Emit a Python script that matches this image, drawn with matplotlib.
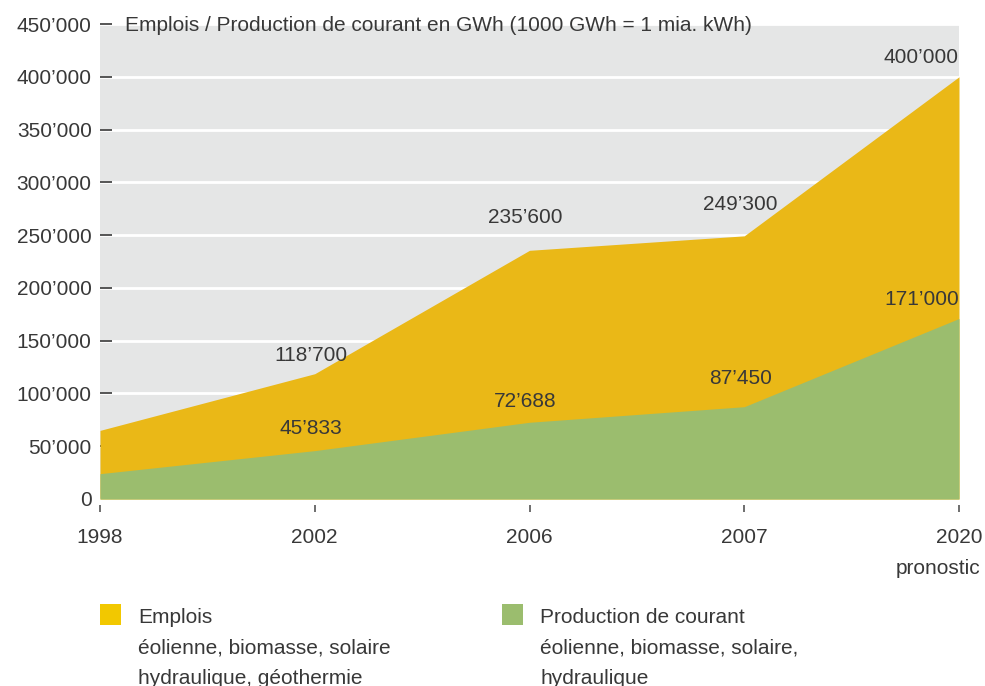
import matplotlib.pyplot as plt
from matplotlib.patches import Rectangle

plt.rcParams['font.family'] = ['Liberation Sans', 'DejaVu Sans']
TXT = '#383838'
FS = 15

# data
years = ['1998', '2002', '2006', '2007', '2020']
emplois = [65000, 118700, 235600, 249300, 400000]
production = [24000, 45833, 72688, 87450, 171000]
emplois_labels = [None, "118’700", "235’600", "249’300", "400’000"]
production_labels = [None, "45’833", "72’688", "87’450", "171’000"]
yticks = [0, 50000, 100000, 150000, 200000, 250000, 300000, 350000, 400000, 450000]

# label offsets above the points (pixels)
emplois_dy = [0, 18, 33, 31, 19]
production_dy = [0, 22, 21, 28, 19]

YELLOW = '#eab817'
GREEN = '#9bbd6e'

fig = plt.figure(figsize=(9.85, 6.86), dpi=100)
ax = fig.add_axes([100 / 985, 1 - 499 / 686, 859 / 985, 475 / 686])
ax.set_facecolor('#e5e6e6')

x = list(range(len(years)))
ax.fill_between(x, 0, emplois, color=YELLOW, lw=0, zorder=2)
ax.fill_between(x, 0, production, color=GREEN, lw=0, zorder=3)

ax.set_xlim(0, len(years) - 1)
ax.set_ylim(0, 450000)

ax.set_yticks(yticks)
ax.set_yticklabels(['0'] + [f"{v // 1000}’000" for v in yticks[1:]])
ax.grid(axis='y', color='white', lw=2)
ax.grid(axis='x', visible=False)
ax.set_axisbelow(True)

for s in ax.spines.values():
    s.set_visible(False)
ax.spines['bottom'].set_position(('outward', 4))

ax.tick_params(axis='y', direction='in', length=8.5, width=1.2, color=TXT,
               pad=6, labelsize=FS, labelcolor=TXT)
ax.tick_params(axis='x', direction='out', length=5, width=1.2, color='#555555',
               pad=12, labelsize=FS, labelcolor=TXT)
ax.yaxis.get_major_ticks()[0].tick1line.set_visible(False)
for t in ax.yaxis.get_major_ticks():
    t.tick1line.set_zorder(5)
ax.set_xticks(x)
ax.set_xticklabels(years)

ax.annotate('pronostic', xy=(x[-1], 0), xytext=(15, -50), textcoords='offset points',
            ha='right', va='center', fontsize=FS, color=TXT, annotation_clip=False)

# title at top of the axis
ax.text(0.029, 0.997, 'Emplois / Production de courant en GWh (1000 GWh = 1 mia. kWh)',
        transform=ax.transAxes, ha='left', va='center', fontsize=FS, color=TXT)

# value labels
for labels, vals, offs in [(emplois_labels, emplois, emplois_dy),
                           (production_labels, production, production_dy)]:
    for i, (lab, v, dy) in enumerate(zip(labels, vals, offs)):
        if lab:
            last = i == len(x) - 1
            ax.annotate(lab, xy=(i, v), xytext=(0 if last else -3, dy * 0.72),
                        textcoords='offset points', ha='right' if last else 'center',
                        va='center', fontsize=FS, color=TXT, zorder=6)

# legend
fig.add_artist(Rectangle((100 / 985, 1 - 625 / 686), 21 / 985, 21 / 686,
                         transform=fig.transFigure, color='#f2c800', lw=0))
fig.add_artist(Rectangle((502 / 985, 1 - 625 / 686), 21 / 985, 21 / 686,
                         transform=fig.transFigure, color=GREEN, lw=0))
fig.text(138 / 985, 1 - 608 / 686,
         'Emplois\néolienne, biomasse, solaire\nhydraulique, géothermie',
         ha='left', va='top', fontsize=FS, color=TXT, linespacing=1.75)
fig.text(540 / 985, 1 - 608 / 686,
         'Production de courant\néolienne, biomasse, solaire,\nhydraulique',
         ha='left', va='top', fontsize=FS, color=TXT, linespacing=1.75)

fig.savefig('out.png', dpi=100)
